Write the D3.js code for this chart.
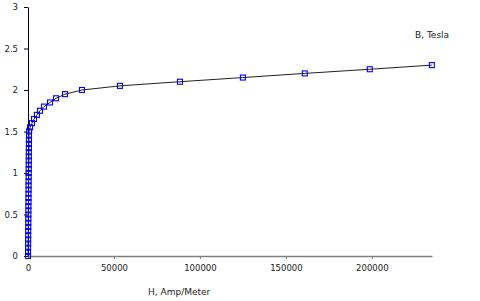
<!DOCTYPE html>
<meta charset="utf-8">
<title>B-H curve</title>
<style>
  body { margin: 0; background: #fff; }
  text { font-family: "DejaVu Sans", Verdana, sans-serif; font-size: 9px; fill: #222; }
</style>
<body>
<svg id="chart" width="480" height="301"></svg>
<script src="https://d3js.org/d3.v7.min.js"></script>
<script>
// H in Amp/Meter, B in Tesla
var hValues = [0, 20, 40, 60, 80, 100, 120, 140, 160, 180, 200, 220, 240, 260, 280, 300,
               320, 340, 360, 380, 400, 420, 440, 460, 480, 500, 520, 540, 560, 580, 600,
               1200, 2300, 3500, 5200, 7000, 9300, 12800, 16300, 21500, 31400,
               53500, 88400, 125000, 161000, 198800, 234900];
var bValues = [0, 0.05, 0.1, 0.15, 0.2, 0.25, 0.3, 0.35, 0.4, 0.45, 0.5, 0.55, 0.6, 0.65, 0.7, 0.75,
               0.8, 0.85, 0.9, 0.95, 1.0, 1.05, 1.1, 1.15, 1.2, 1.25, 1.3, 1.35, 1.4, 1.45, 1.5,
               1.55, 1.6, 1.65, 1.7, 1.75, 1.8, 1.85, 1.9, 1.95, 2.0,
               2.05, 2.1, 2.15, 2.2, 2.25, 2.3];
var xTicks = [0, 50000, 100000, 150000, 200000];
var yTicks = [0, 0.5, 1, 1.5, 2, 2.5, 3];

var data = hValues.map(function(h, i) { return {h: h, b: bValues[i]}; });

var svg = d3.select("#chart");

var x = d3.scaleLinear().domain([0, 235000]).range([28, 432]);
var y = d3.scaleLinear().domain([0, 3]).range([256, 7]);

// x axis (grey)
var gx = svg.append("g").attr("transform", "translate(0,256)")
  .call(d3.axisBottom(x).tickValues(xTicks).tickSize(3).tickSizeOuter(0).tickPadding(6)
        .tickFormat(d3.format("d")));
gx.select(".domain").attr("stroke", "#808080").attr("stroke-width", 1.5);
gx.selectAll(".tick line").attr("stroke", "#808080");

// y axis (black)
var gy = svg.append("g").attr("transform", "translate(28,0)")
  .call(d3.axisLeft(y).tickValues(yTicks).tickSize(4).tickSizeOuter(0).tickPadding(6)
        .tickFormat(function(d) { return d; }));
gy.select(".domain").attr("stroke", "#000");
gy.selectAll(".tick line").attr("stroke", "#000");

svg.selectAll(".tick text").style("font-size", "8.5px").attr("fill", "#222");

// curve
var line = d3.line()
  .x(function(d) { return x(d.h); })
  .y(function(d) { return y(d.b); });

svg.append("path")
  .datum(data)
  .attr("fill", "none")
  .attr("stroke", "#222")
  .attr("stroke-width", 1)
  .attr("d", line);

// markers
svg.selectAll("rect.pt")
  .data(data)
  .enter().append("rect")
  .attr("class", "pt")
  .attr("x", function(d) { return x(d.h) - 2.5; })
  .attr("y", function(d) { return y(d.b) - 2.5; })
  .attr("width", 5)
  .attr("height", 5)
  .attr("fill", "none")
  .attr("stroke", "#0000ff")
  .attr("stroke-width", 1.1);

// axis titles
svg.append("text").attr("x", 415).attr("y", 38).text("B, Tesla");
svg.append("text").attr("x", 148).attr("y", 295).text("H, Amp/Meter");
</script>
</body>
